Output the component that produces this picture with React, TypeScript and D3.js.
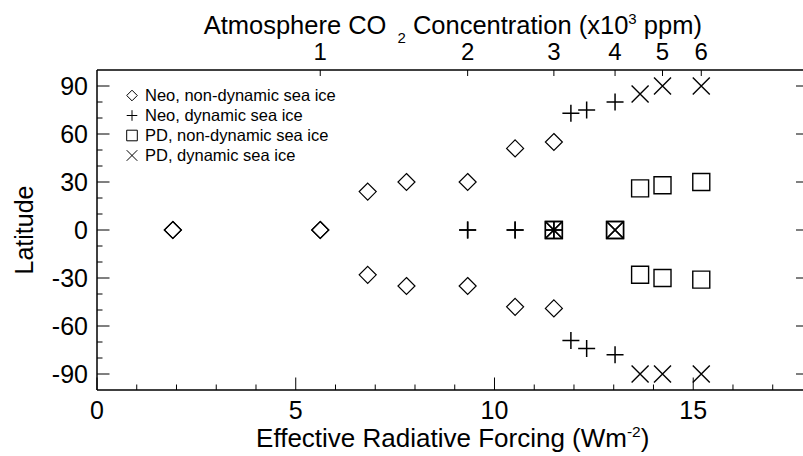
import React from 'react';
import * as d3 from 'd3';

// ---------- data ----------
// CO2 concentrations (ppm) of each experiment and sea-ice edge latitudes
const neoNonDynCO2 = [500, 1000, 1250, 1500, 2000, 2500, 3000];
const neoNonDynNorth = [0, 0, 24, 30, 30, 51, 55];
const neoNonDynSouth = [0, 0, -28, -35, -35, -48, -49];

const neoDynCO2 = [2000, 2500, 3000, 3250, 3500, 4000];
const neoDynNorth = [0, 0, 0, 73, 75, 80];
const neoDynSouth = [0, 0, 0, -69, -74, -78];

const pdNonDynCO2 = [3000, 4000, 4500, 5000, 6000];
const pdNonDynNorth = [0, 0, 26, 28, 30];
const pdNonDynSouth = [0, 0, -28, -30, -31];

const pdDynCO2 = [3000, 4000, 4500, 5000, 6000];
const pdDynNorth = [0, 0, 85, 90, 90];
const pdDynSouth = [0, 0, -90, -90, -90];

const legendLabels = [
  'Neo, non-dynamic sea ice',
  'Neo, dynamic sea ice',
  'PD, non-dynamic sea ice',
  'PD, dynamic sea ice',
];
const legendSymbols = ['diamond', 'plus', 'square', 'cross'];

const erfMajorTicks = [0, 5, 10, 15];
const erfTickLabels = ['0', '5', '10', '15'];
const latMajorTicks = [-90, -60, -30, 0, 30, 60, 90];
const latTickLabels = ['-90', '-60', '-30', '0', '30', '60', '90'];
const co2Ticks = [1000, 2000, 3000, 4000, 5000, 6000];
const co2TickLabels = ['1', '2', '3', '4', '5', '6'];

const CO2_REF = 350; // ppm at zero forcing
const ERF_COEF = 5.35; // W m-2 per ln unit
const ERF_MAX = 17.9;

// ---------- layout ----------
const W = 803;
const H = 456;
const left = 97;
const right = 808.5;
const top = 70;
const bottom = 390;
const FONT = '"Liberation Sans", Arial, Helvetica, sans-serif';

const xScale = d3.scaleLinear().domain([0, ERF_MAX]).range([left, right]);
const co2Scale = d3
  .scaleLog()
  .domain([CO2_REF, CO2_REF * Math.exp(ERF_MAX / ERF_COEF)])
  .range([left, right]);
const yScale = d3.scaleLinear().domain([-100, 100]).range([bottom, top]);

function symbolPath(type: string, cx: number, cy: number, r: number): string {
  const p = d3.path();
  if (type === 'diamond') {
    p.moveTo(cx, cy - r);
    p.lineTo(cx + r, cy);
    p.lineTo(cx, cy + r);
    p.lineTo(cx - r, cy);
    p.closePath();
  } else if (type === 'square') {
    p.rect(cx - r, cy - r, 2 * r, 2 * r);
  } else if (type === 'plus') {
    p.moveTo(cx - r, cy);
    p.lineTo(cx + r, cy);
    p.moveTo(cx, cy - r);
    p.lineTo(cx, cy + r);
  } else {
    p.moveTo(cx - r, cy - r);
    p.lineTo(cx + r, cy + r);
    p.moveTo(cx - r, cy + r);
    p.lineTo(cx + r, cy - r);
  }
  return p.toString();
}

const series = [
  { sym: 'diamond', co2: neoNonDynCO2, north: neoNonDynNorth, south: neoNonDynSouth, sw: 1.2 },
  { sym: 'plus', co2: neoDynCO2, north: neoDynNorth, south: neoDynSouth, sw: 1.5 },
  { sym: 'square', co2: pdNonDynCO2, north: pdNonDynNorth, south: pdNonDynSouth, sw: 1.4 },
  { sym: 'cross', co2: pdDynCO2, north: pdDynNorth, south: pdDynSouth, sw: 1.4 },
];

export default function App() {
  const erfMinor = d3.range(1, Math.floor(ERF_MAX) + 1).filter((v) => v % 5 !== 0);
  const latMinor = d3.range(-90, 91, 10).filter((v) => v % 30 !== 0);
  const majorLen = 12.5;
  const minorLen = 5.5;
  const topTickLen = 6;

  return (
    <svg
      width={W}
      height={H}
      style={{ position: 'absolute', left: 0, top: 0, background: '#fff' }}
      fontFamily={FONT}
    >
      <rect x={0} y={0} width={W} height={H} fill="#fff" />

      {/* frame */}
      <g stroke="#000" strokeWidth={1.5} fill="none">
        <line x1={left} x2={right} y1={top} y2={top} />
        <line x1={left} x2={right} y1={bottom} y2={bottom} />
        <line x1={left} x2={left} y1={top} y2={bottom} />
        <line x1={right} x2={right} y1={top} y2={bottom} />
      </g>

      {/* bottom ERF ticks */}
      <g stroke="#000" strokeWidth={1}>
        {erfMajorTicks.map((v) => (
          <line key={'xm' + v} x1={xScale(v)} x2={xScale(v)} y1={bottom} y2={bottom - majorLen} />
        ))}
        {erfMinor.map((v) => (
          <line key={'xn' + v} x1={xScale(v)} x2={xScale(v)} y1={bottom} y2={bottom - minorLen} />
        ))}
        {/* top CO2 ticks */}
        {co2Ticks.map((v) => (
          <line key={'ct' + v} x1={co2Scale(v)} x2={co2Scale(v)} y1={top} y2={top + topTickLen} />
        ))}
        {/* latitude ticks left & right */}
        {latMajorTicks.map((v) => (
          <g key={'ym' + v}>
            <line x1={left} x2={left + majorLen} y1={yScale(v)} y2={yScale(v)} />
            <line x1={right} x2={right - majorLen} y1={yScale(v)} y2={yScale(v)} />
          </g>
        ))}
        {latMinor.map((v) => (
          <g key={'yn' + v}>
            <line x1={left} x2={left + minorLen} y1={yScale(v)} y2={yScale(v)} />
            <line x1={right} x2={right - minorLen} y1={yScale(v)} y2={yScale(v)} />
          </g>
        ))}
      </g>

      {/* tick labels */}
      <g fontSize={25} fill="#000">
        {erfMajorTicks.map((v, i) => (
          <text key={'xl' + v} x={xScale(v)} y={419} textAnchor="middle">
            {erfTickLabels[i]}
          </text>
        ))}
        {latMajorTicks.map((v, i) => (
          <text key={'yl' + v} x={88} y={yScale(v)} dy="0.36em" textAnchor="end">
            {latTickLabels[i]}
          </text>
        ))}
      </g>
      <g fontSize={24} fill="#000">
        {co2Ticks.map((v, i) => (
          <text key={'cl' + v} x={co2Scale(v)} y={59.5} textAnchor="middle">
            {co2TickLabels[i]}
          </text>
        ))}
      </g>

      {/* axis titles */}
      <text x={(left + right) / 2} y={447} textAnchor="middle" fontSize={26}>
        Effective Radiative Forcing (Wm
        <tspan fontSize={15.5} dy={-10}>-2</tspan>
        <tspan dy={10}>)</tspan>
      </text>
      <text
        transform={`translate(33, ${(top + bottom) / 2}) rotate(-90)`}
        textAnchor="middle"
        fontSize={25}
      >
        Latitude
      </text>
      <text x={(left + right) / 2} y={34} textAnchor="middle" fontSize={25.5}>
        Atmosphere CO
        <tspan fontSize={15} dx={11} dy={9}>2</tspan>
        <tspan dy={-9}> Concentration (x10</tspan>
        <tspan fontSize={15} dy={-10}>3</tspan>
        <tspan dy={10}> ppm)</tspan>
      </text>

      {/* data markers */}
      <g fill="none" stroke="#000">
        {series.map((s, si) =>
          s.co2.map((c, i) => (
            <g key={`s${si}-${i}`} strokeWidth={s.sw}>
              <path d={symbolPath(s.sym, co2Scale(c), yScale(s.north[i]), 8.5)} />
              <path d={symbolPath(s.sym, co2Scale(c), yScale(s.south[i]), 8.5)} />
            </g>
          ))
        )}
      </g>

      {/* legend */}
      <g>
        {legendLabels.map((lab, i) => {
          const cy = 95.5 + i * 20;
          return (
            <g key={'lg' + i}>
              <path
                d={symbolPath(legendSymbols[i], 132, cy, 5.3)}
                fill="none"
                stroke="#000"
                strokeWidth={1}
              />
              <text x={145} y={cy} dy="0.36em" fontSize={16.5} fill="#000">
                {lab}
              </text>
            </g>
          );
        })}
      </g>
    </svg>
  );
}
